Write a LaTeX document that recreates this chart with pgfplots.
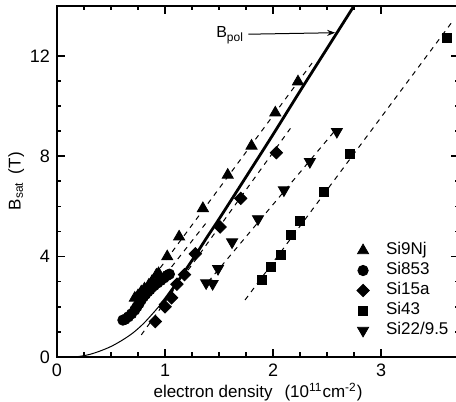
\documentclass[border=0pt]{standalone}
\usepackage{fontspec}
\setmainfont{Liberation Sans}
\usepackage{pgfplots}
\pgfplotsset{compat=1.18}
\usetikzlibrary{arrows.meta}
\begin{document}
\begin{tikzpicture}
\begin{axis}[
  width=201pt, height=175.7pt, scale only axis,
  xmin=0, xmax=3.72, ymin=0, ymax=14,
  xtick={0,1,2,3}, ytick={0,4,8,12},
  minor x tick num=3, minor y tick num=3,
  tick align=inside,
  major tick length=4pt, minor tick length=2.25pt,
  axis line style={line width=0.9pt},
  every tick/.style={black, line width=0.8pt},
  tick label style={font=\fontsize{9}{10}\selectfont},
  /pgf/number format/assume math mode=true,
  label style={font=\fontsize{8.5}{10}\selectfont},
  xlabel={electron density\hspace{6pt}(10\textsuperscript{11}cm\textsuperscript{-2})},
  xlabel style={at={(axis description cs:0.5,0)}, anchor=base, yshift=-20pt},
  ylabel={B\textsubscript{sat}\hspace{4pt}(T)},
  ylabel style={yshift=-4pt},
  legend style={draw=none, fill=none, at={(0.733,0.344)}, anchor=north west,
    font=\fontsize{8.5}{10}\selectfont, row sep=0pt, inner sep=2pt,
    nodes={text height=6.2pt, text depth=1.8pt, inner sep=1pt}},
  legend image code/.code={\path[draw=none, fill=none] (-3.5pt,0pt) -- (10.5pt,0pt); \draw[#1, only marks] plot coordinates {(0pt,0pt)};},
  legend cell align=left,
]
% fitted dashed lines
\addplot[forget plot, black, line width=0.5pt, dash pattern=on 2.5pt off 2.5pt] coordinates {(0.68,1.95) (2.37,11.77)};
\addplot[forget plot, black, line width=0.5pt, dash pattern=on 2.5pt off 2.5pt] coordinates {(0.66,1.40) (1.40,5.45)};
\addplot[forget plot, black, line width=0.5pt, dash pattern=on 2.5pt off 2.5pt] coordinates {(0.78,0.88) (2.16,9.11)};
\addplot[forget plot, black, line width=0.5pt, dash pattern=on 2.5pt off 2.5pt] coordinates {(1.40,3.00) (2.59,9.11)};
\addplot[forget plot, black, line width=0.5pt, dash pattern=on 2.5pt off 2.5pt] coordinates {(1.74,2.27) (3.67,13.43)};
% B_pol curve
\addplot[forget plot, black, line width=0.5pt, smooth] coordinates {
 (0.12,0.0) (0.2,0.02) (0.3,0.10) (0.4,0.24) (0.5,0.42) (0.6,0.66) (0.7,0.95) (0.8,1.33) (0.9,1.80) (0.96,2.10)};
\addplot[forget plot, black, line width=1.4pt, smooth] coordinates {
 (0.95,2.05) (1.0,2.30) (1.1,2.90) (1.2,3.53) (1.3,4.18) (1.4,4.85) (1.5,5.50) (1.75,7.18) (2.0,8.87) (2.25,10.6) (2.5,12.3) (2.75,14.0)};
% data
\addplot[only marks, mark=triangle*, mark size=3.2pt, black] coordinates {
 (0.72,2.35) (0.75,2.45) (0.78,2.60) (0.81,2.72) (0.85,2.87) (0.88,3.02) (0.92,3.27) (0.94,3.33)
 (1.02,4.0) (1.13,4.79) (1.35,5.92) (1.58,7.25) (1.80,8.41) (2.02,9.73) (2.23,10.97)};
\addlegendentry{Si9Nj}
\addplot[only marks, mark=*, mark size=2.6pt, black] coordinates {
 (0.61,1.47) (0.63,1.50) (0.66,1.60) (0.69,1.72) (0.72,1.87) (0.74,2.00) (0.76,2.13) (0.78,2.28)
 (0.80,2.40) (0.82,2.50) (0.84,2.60) (0.86,2.68) (0.88,2.78) (0.90,2.85) (0.93,2.95) (0.96,3.05)
 (0.99,3.15) (1.02,3.25) (1.04,3.30)};
\addlegendentry{Si853}
\addplot[only marks, mark=square*, mark options={rotate=45}, mark size=2.2pt, black] coordinates {
 (0.91,1.41) (1.00,2.00) (1.06,2.36) (1.11,2.90) (1.18,3.28) (1.28,4.11) (1.51,5.18) (1.70,6.32) (2.03,8.14)};
\addlegendentry{Si15a}
\addplot[only marks, mark=square*, mark size=2.25pt, black] coordinates {
 (1.90,3.09) (1.98,3.57) (2.07,4.06) (2.16,4.86) (2.25,5.42) (2.47,6.56) (2.71,8.09) (3.61,12.72)};
\addlegendentry{Si43}
\addplot[only marks, mark=triangle*, mark options={rotate=180}, mark size=3.2pt, black] coordinates {
 (1.38,2.95) (1.44,2.92) (1.49,3.52) (1.62,4.58) (1.86,5.50) (2.10,6.65) (2.34,7.78) (2.59,8.98)};
\addlegendentry{Si22/9.5}
% annotation
\node[anchor=base west, inner sep=0pt, font=\fontsize{8}{10}\selectfont] at (axis cs:1.47,12.71) {B\textsubscript{pol}};
\draw[-{Stealth[length=4pt,width=3pt]}, line width=0.5pt] (axis cs:1.77,12.86) -- (axis cs:2.574,12.92);
\end{axis}
\pgfresetboundingbox
\path[use as bounding box] (-28.5pt,-22.5pt) rectangle (199.5pt,178.5pt);
\end{tikzpicture}
\end{document}
